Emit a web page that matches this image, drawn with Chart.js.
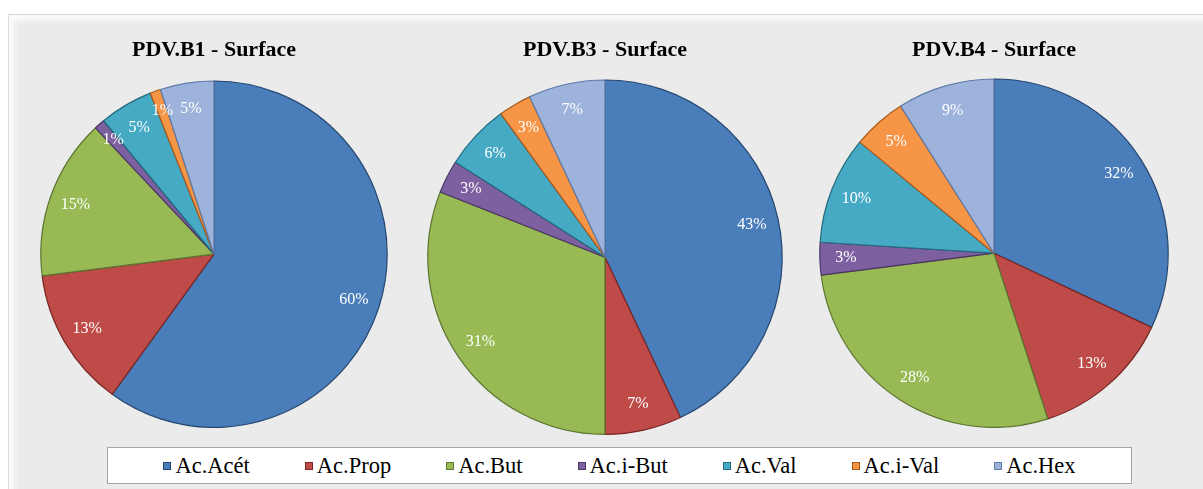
<!DOCTYPE html>
<html>
<head>
<meta charset="utf-8">
<script src="https://cdn.jsdelivr.net/npm/chart.js@4.4.1/dist/chart.umd.min.js"></script>
<style>
  html, body { margin: 0; padding: 0; background: #ffffff; }
  body { width: 1203px; height: 489px; position: relative; overflow: hidden; }
  #frame {
    position: absolute; left: 8px; top: 14px; width: 1195px; height: 480px;
    background: #ebebeb;
    border-top: 1px solid #d4d4d4; border-left: 1px solid #dcdcdc;
    box-shadow: inset 5px 5px 6px rgba(255,255,255,0.85);
  }
  .pie { position: absolute; }
  #legend {
    position: absolute; left: 107px; top: 447px; width: 1023px; height: 35px;
    background: #ffffff; border: 1px solid #a6a6a6;
    display: flex; align-items: center; justify-content: center; gap: 55px;
    font-family: 'Liberation Serif', Tinos, 'Times New Roman', 'DejaVu Serif', serif;
    font-size: 22.5px; color: #000;
  }
  #legend .item { display: flex; align-items: center; }
  #legend .box { width: 6px; height: 6px; margin-right: 4px; border: 1px solid; }
</style>
</head>
<body>
<div id="frame"></div>
<div id="legend"></div>
<script>
const categories = ['Ac.Acét', 'Ac.Prop', 'Ac.But', 'Ac.i-But', 'Ac.Val', 'Ac.i-Val', 'Ac.Hex'];
const titles = ['PDV.B1 - Surface', 'PDV.B3 - Surface', 'PDV.B4 - Surface'];
const b1Values = [60, 13, 15, 1, 5, 1, 5];
const b3Values = [43, 7, 31, 3, 6, 3, 7];
const b4Values = [32, 13, 28, 3, 10, 5, 9];

const colors = ['#4a7ebb', '#be4b48', '#98b954', '#7d60a0', '#46aac5', '#f69546', '#9db3dc'];
const borders = ['#24466e', '#7a2624', '#5a7530', '#4a3466', '#236a7d', '#a85a1c', '#5e7aa8'];

const serif = "'Liberation Serif', Tinos, 'Times New Roman', 'DejaVu Serif', serif";

// where each pie sits on the page
const boxes = [
    { cx: 214, top: 20, h: 408, padBottom: 17 },
    { cx: 605, top: 20, h: 415, padBottom: 16 },
    { cx: 994, top: 20, h: 408, padBottom: 15 }
];

// percent labels inside the slices
const pctLabels = {
    id: 'pctLabels',
    afterDatasetsDraw(chart) {
        const ctx = chart.ctx;
        const data = chart.data.datasets[0].data;
        const total = data.reduce((a, b) => a + b, 0);
        const arcs = chart.getDatasetMeta(0).data;
        ctx.save();
        ctx.font = '16px ' + serif;
        ctx.fillStyle = '#ffffff';
        ctx.textAlign = 'center';
        ctx.textBaseline = 'middle';
        arcs.forEach((arc, i) => {
            const p = arc.getProps(['x', 'y', 'startAngle', 'endAngle', 'outerRadius'], true);
            const mid = (p.startAngle + p.endAngle) / 2;
            const k = data[i] / total < 0.03 ? 0.88 : 0.85;
            const x = p.x + Math.cos(mid) * p.outerRadius * k;
            const y = p.y + Math.sin(mid) * p.outerRadius * k;
            ctx.fillText(Math.round(data[i] / total * 100) + '%', x, y);
        });
        ctx.restore();
    }
};

const allValues = [b1Values, b3Values, b4Values];

allValues.forEach((vals, n) => {
    const b = boxes[n];
    const div = document.createElement('div');
    div.className = 'pie';
    const w = 380;
    div.style.left = (b.cx - w / 2) + 'px';
    div.style.top = b.top + 'px';
    const canvas = document.createElement('canvas');
    canvas.width = w;
    canvas.height = b.h;
    div.appendChild(canvas);
    document.body.appendChild(div);

    new Chart(canvas, {
        type: 'pie',
        data: {
            labels: categories,
            datasets: [{
                data: vals,
                backgroundColor: colors,
                borderColor: borders,
                borderWidth: 1.2
            }]
        },
        options: {
            responsive: false,
            animation: false,
            layout: { padding: 0 },
            plugins: {
                legend: { display: false },
                tooltip: { enabled: false },
                title: {
                    display: true,
                    text: titles[n],
                    color: '#000000',
                    font: { family: serif, size: 22, weight: 'bold' },
                    padding: { top: 17, bottom: b.padBottom }
                }
            }
        },
        plugins: [pctLabels]
    });
});

// shared legend under the pies
const legend = document.getElementById('legend');
categories.forEach((c, i) => {
    const item = document.createElement('div');
    item.className = 'item';
    const box = document.createElement('span');
    box.className = 'box';
    box.style.background = colors[i];
    box.style.borderColor = borders[i];
    const txt = document.createElement('span');
    txt.textContent = c;
    item.appendChild(box);
    item.appendChild(txt);
    legend.appendChild(item);
});
</script>
</body>
</html>
